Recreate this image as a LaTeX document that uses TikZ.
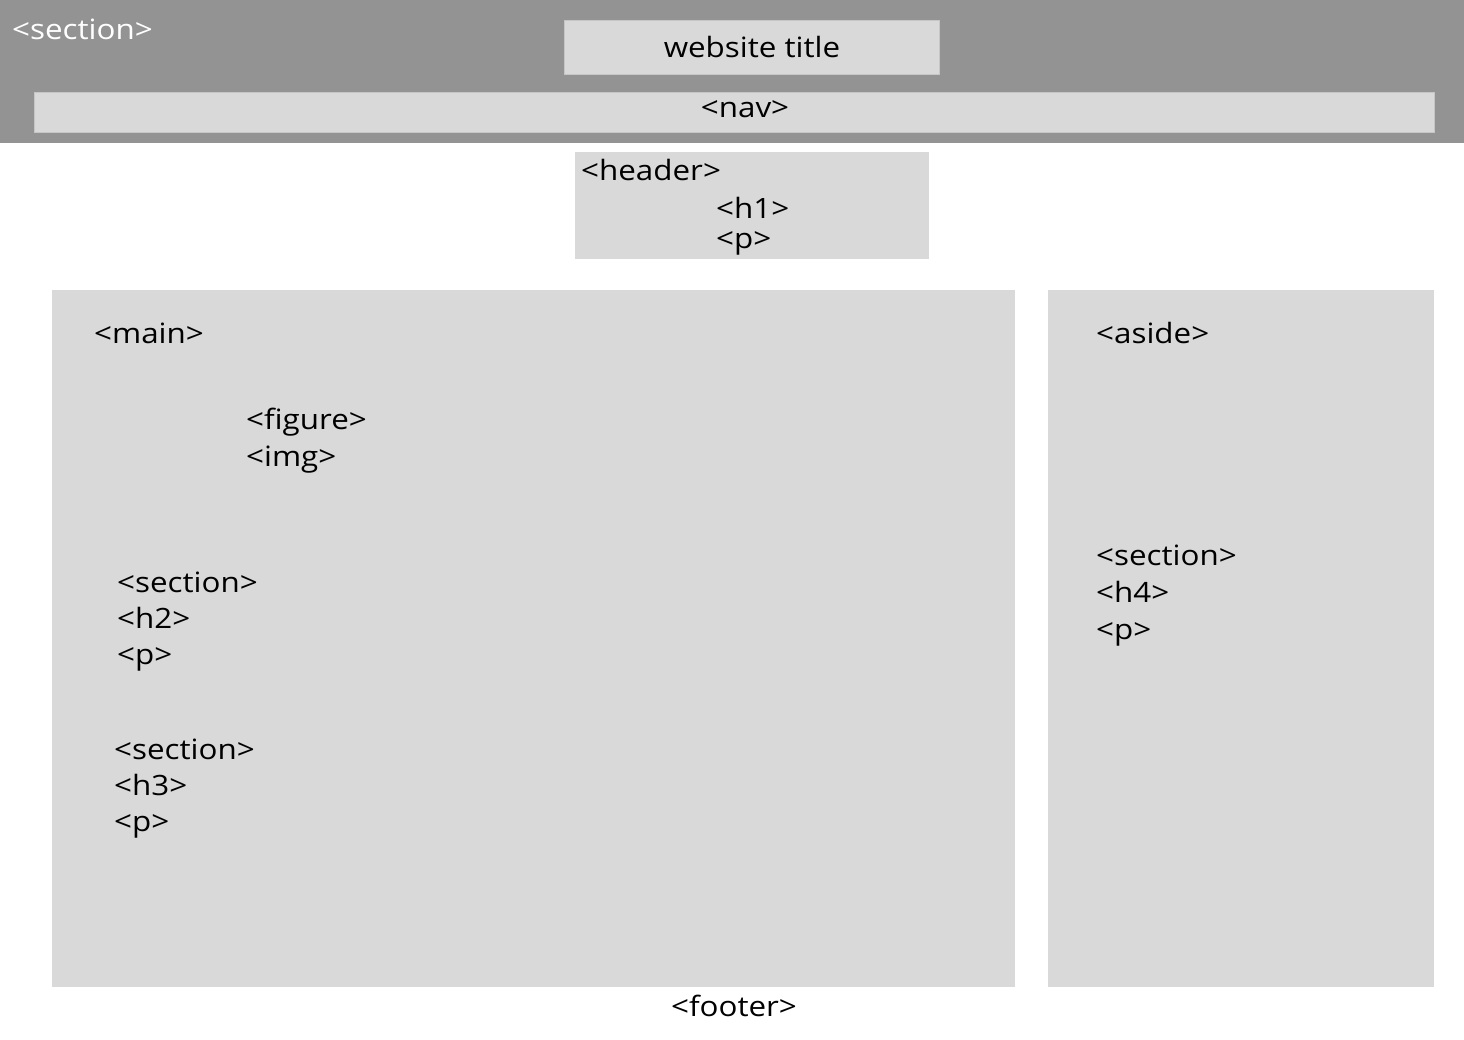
\documentclass[tikz,border=0pt]{standalone}
\usepackage{fontspec}
\setmainfont[FakeStretch=1.12]{Open Sans}
\definecolor{band}{HTML}{939393}
\definecolor{boxfill}{HTML}{D9D9D9}
\definecolor{boxline}{HTML}{C6C6C6}
\begin{document}
\begin{tikzpicture}[x=1pt,y=-1pt,
  panel/.style={fill=boxfill,draw=boxline,line width=0.8pt},
  lbl/.style={inner sep=0pt,anchor=base west,font=\fontsize{28}{32}\selectfont,text=black},
  clbl/.style={lbl,anchor=base}]
\useasboundingbox (0,0) rectangle (1464,1040);
\fill[white] (0,0) rectangle (1464,1040);
% top band
\fill[band] (0,0) rectangle (1464,143);
\node[lbl,text=white] (secTop) at (12,40) {<section>};
\draw[panel] (564,20) rectangle (939,74);
\node[clbl] (title) at (752,58) {website title};
\draw[panel] (34,92) rectangle (1434,132);
\node[clbl] (nav) at (745,118) {<nav>};
% header
\draw[panel,draw=none] (575,152) rectangle (929,259);
\node[lbl] (header) at (581,181) {<header>};
\node[lbl] (h1) at (716,219) {<h1>};
\node[lbl] (hp) at (716,249) {<p>};
% main
\draw[panel,draw=none] (52,290) rectangle (1015,987);
\node[lbl] (main) at (94,344) {<main>};
\node[lbl] (figure) at (246,429) {<figure>};
\node[lbl] (img) at (246,466) {<img>};
\node[lbl] (secA) at (117,592) {<section>};
\node[lbl] (h2) at (117,628) {<h2>};
\node[lbl] (pA) at (117,664) {<p>};
\node[lbl] (secB) at (114,759) {<section>};
\node[lbl] (h3) at (114,795) {<h3>};
\node[lbl] (pB) at (114,831) {<p>};
% aside
\draw[panel,draw=none] (1048,290) rectangle (1434,987);
\node[lbl] (aside) at (1096,344) {<aside>};
\node[lbl] (secC) at (1096,565) {<section>};
\node[lbl] (h4) at (1096,602) {<h4>};
\node[lbl] (pC) at (1096,639) {<p>};
% footer
\node[clbl] (footer) at (734,1016) {<footer>};
\end{tikzpicture}
\end{document}
